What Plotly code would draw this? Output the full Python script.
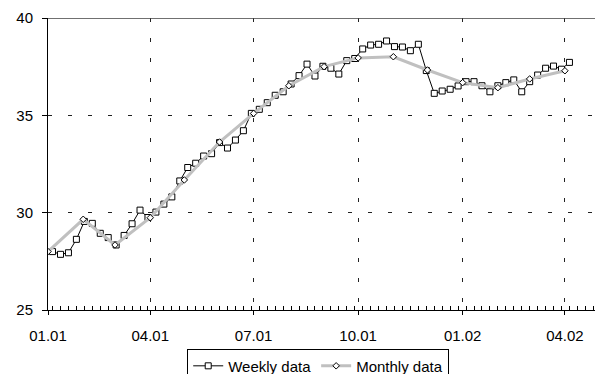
import pandas as pd
import plotly.graph_objects as go

# Weekly observations (Fridays, starting 2001-01-05)
weekly_start = "2001-01-05"
weekly_values = [
    28.00, 27.86, 27.94, 28.63, 29.55, 29.45, 28.94, 28.72, 28.34, 28.83,
    29.43, 30.13, 29.75, 30.03, 30.44, 30.81, 31.63, 32.32, 32.54, 32.91,
    33.03, 33.60, 33.32, 33.73, 34.21, 35.10, 35.31, 35.65, 36.03, 36.21,
    36.61, 37.04, 37.63, 37.02, 37.52, 37.42, 37.12, 37.81, 37.92, 38.41,
    38.61, 38.65, 38.82, 38.53, 38.51, 38.32, 38.65, 37.30, 36.13, 36.25,
    36.34, 36.51, 36.73, 36.73, 36.52, 36.21, 36.52, 36.68, 36.82, 36.21,
    36.73, 37.07, 37.42, 37.53, 37.37, 37.72,
]

# Monthly observations (first of each month)
monthly_dates = [
    "2001-01-01", "2001-02-01", "2001-03-01", "2001-04-01", "2001-05-01",
    "2001-06-01", "2001-07-01", "2001-08-01", "2001-09-01", "2001-10-01",
    "2001-11-01", "2001-12-01", "2002-01-01", "2002-02-01", "2002-03-01",
    "2002-04-01",
]
monthly_values = [
    28.00, 29.66, 28.34, 29.74, 31.68, 33.63, 35.10, 36.52, 37.50, 37.95,
    38.01, 37.33, 36.68, 36.42, 36.87, 37.29,
]

weekly_dates = pd.date_range(weekly_start, periods=len(weekly_values), freq="7D")

FONT = "Liberation Sans, Arial, sans-serif"
GRID = "#222222"

fig = go.Figure()

fig.add_trace(go.Scatter(
    x=weekly_dates, y=weekly_values, name="Weekly data",
    mode="lines+markers",
    line=dict(color="black", width=1),
    marker=dict(symbol="square", size=6, color="white",
                line=dict(color="black", width=1)),
))

fig.add_trace(go.Scatter(
    x=monthly_dates, y=monthly_values, name="Monthly data",
    mode="lines+markers",
    line=dict(color="#c0c0c0", width=3),
    marker=dict(symbol="diamond", size=5, color="white",
                line=dict(color="black", width=1)),
))

# solid top border of the plot area
fig.add_shape(type="line", xref="paper", yref="y", x0=0, x1=1, y0=40, y1=40,
              line=dict(color="#404040", width=1.5))

fig.update_layout(
    width=595, height=374,
    margin=dict(l=48, r=0, t=18, b=64, autoexpand=False),
    paper_bgcolor="white", plot_bgcolor="white",
    font=dict(family=FONT, size=15, color="black"),
    showlegend=True,
    legend=dict(
        orientation="h", x=0.494, xanchor="center",
        yref="container", y=0.068, yanchor="top",
        bordercolor="black", borderwidth=1, bgcolor="white",
        font=dict(size=15), itemwidth=30, tracegroupgap=0,
    ),
    xaxis=dict(
        type="date",
        range=["2001-01-01", "2002-04-27 12:00"],
        tick0="2001-01-01", dtick="M3", tickformat="%m.%y",
        ticks="outside", ticklen=4, tickcolor="black", tickwidth=1,
        ticklabelstandoff=8,
        showline=True, linecolor="black", linewidth=1,
        showgrid=True, gridcolor=GRID, gridwidth=1, griddash="4px,16px",
        zeroline=False,
        minor=dict(ticks="inside", ticklen=4, tickcolor="black", tickwidth=1,
                   tick0="2001-01-05", dtick=7 * 86400000, showgrid=False),
    ),
    yaxis=dict(
        range=[25, 40], tick0=25, dtick=5,
        ticks="outside", ticklen=5, tickcolor="black", tickwidth=1,
        ticklabelstandoff=6,
        showline=True, linecolor="black", linewidth=1,
        showgrid=True, gridcolor=GRID, gridwidth=1, griddash="4px,16px",
        zeroline=False,
    ),
)

fig.write_html("out.html")
